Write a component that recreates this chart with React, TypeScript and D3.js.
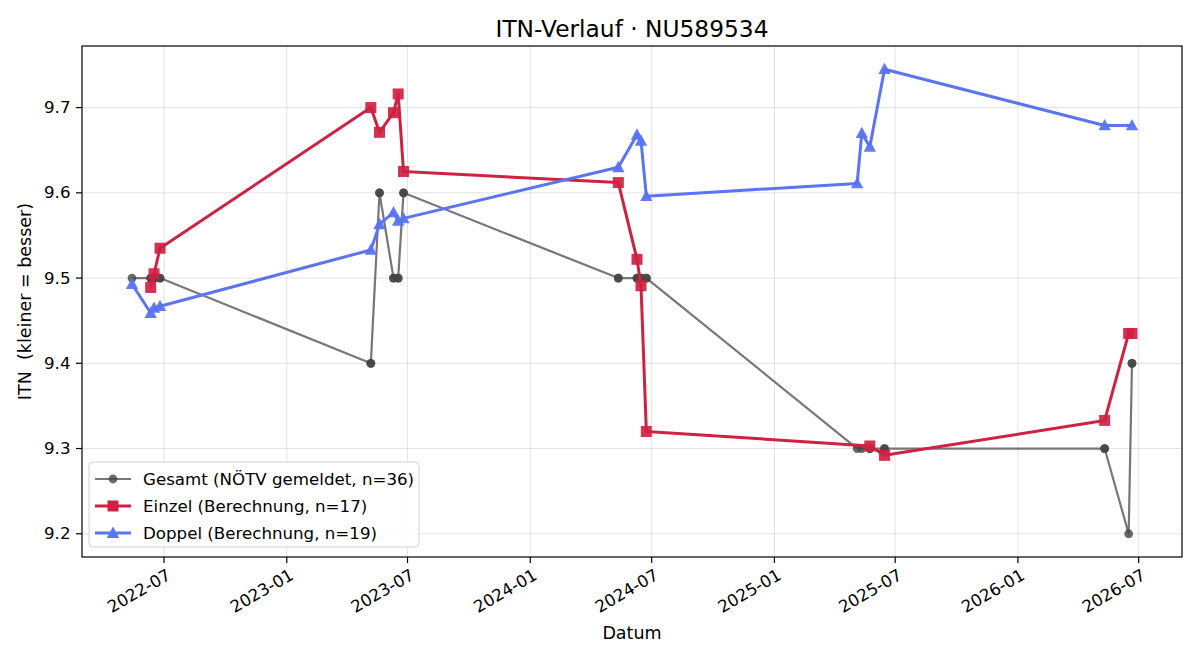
import React from "react";
import * as d3 from "d3";

const gesamtDates = [
  "2022-05-14","2022-06-11","2022-06-11","2022-06-16","2022-06-16","2022-06-25","2022-06-25",
  "2023-05-07","2023-05-07","2023-05-20","2023-05-20","2023-06-10","2023-06-10","2023-06-17","2023-06-17","2023-06-25","2023-06-25",
  "2024-05-12","2024-05-12","2024-06-09","2024-06-09","2024-06-15","2024-06-15","2024-06-23","2024-06-23",
  "2025-05-05","2025-05-12","2025-05-24","2025-05-24","2025-06-15","2025-06-15",
  "2026-05-11","2026-05-11","2026-06-16","2026-06-21","2026-06-21"
];
const gesamtValues = [
  9.5,9.5,9.5,9.5,9.5,9.5,9.5,
  9.4,9.4,9.6,9.6,9.5,9.5,9.5,9.5,9.6,9.6,
  9.5,9.5,9.5,9.5,9.5,9.5,9.5,9.5,
  9.3,9.3,9.3,9.3,9.3,9.3,
  9.3,9.3,9.2,9.4,9.4
];

const einzelDates = [
  "2022-06-11","2022-06-16","2022-06-25",
  "2023-05-07","2023-05-20","2023-06-10","2023-06-17","2023-06-25",
  "2024-05-12","2024-06-09","2024-06-15","2024-06-23",
  "2025-05-24","2025-06-15",
  "2026-05-11","2026-06-16","2026-06-21"
];
const einzelValues = [
  9.489,9.505,9.535,
  9.700,9.671,9.694,9.716,9.625,
  9.612,9.522,9.491,9.320,
  9.303,9.292,
  9.333,9.435,9.435
];

const doppelDates = [
  "2022-05-14","2022-06-11","2022-06-16","2022-06-25",
  "2023-05-07","2023-05-20","2023-06-10","2023-06-17","2023-06-25",
  "2024-05-12","2024-06-09","2024-06-15","2024-06-23",
  "2025-05-05","2025-05-12","2025-05-24","2025-06-15",
  "2026-05-11","2026-06-21"
];
const doppelValues = [
  9.493,9.459,9.465,9.467,
  9.533,9.563,9.577,9.567,9.570,
  9.630,9.668,9.661,9.596,
  9.611,9.670,9.654,9.745,
  9.679,9.679
];

const xTickLabels = ["2022-07","2023-01","2023-07","2024-01","2024-07","2025-01","2025-07","2026-01","2026-07"];
const yTickValues = [9.2, 9.3, 9.4, 9.5, 9.6, 9.7];

const legendLabels = [
  "Gesamt (NÖTV gemeldet, n=36)",
  "Einzel (Berechnung, n=17)",
  "Doppel (Berechnung, n=19)"
];

const parse = d3.utcParse("%Y-%m-%d");
const parseMonth = d3.utcParse("%Y-%m");

type Pt = { d: Date; v: number };
const zip = (ds: string[], vs: number[]): Pt[] => ds.map((s, i) => ({ d: parse(s) as Date, v: vs[i] }));

const gesamt = zip(gesamtDates, gesamtValues);
const einzel = zip(einzelDates, einzelValues);
const doppel = zip(doppelDates, doppelValues);

const W = 1200, H = 660;
const L = 82, R = 1182, T = 46, B = 557;
const FONT = "DejaVu Sans, sans-serif";

const GRAY_LINE = "#777777";
const GRAY_MARK = "#444444";
const RED = "#cf2142";
const BLUE = "#5a74f2";
const TICK_FS = 16.67;

export default function App() {
  const all = [...gesamt, ...einzel, ...doppel];
  const [dMin, dMax] = d3.extent(all, (p) => +p.d) as [number, number];
  const [vMin, vMax] = d3.extent(all, (p) => p.v) as [number, number];
  const dx = (dMax - dMin) * 0.05;
  const dy = (vMax - vMin) * 0.05;
  const x = d3.scaleUtc().domain([new Date(dMin - dx), new Date(dMax + dx)]).range([L, R]);
  const y = d3.scaleLinear().domain([vMin - dy, vMax + dy]).range([B, T]);

  const line = d3.line<Pt>().x((p) => x(p.d)).y((p) => y(p.v));
  const xTicks = xTickLabels.map((s) => ({ s, d: parseMonth(s) as Date }));

  const tri = (cx: number, cy: number, r: number) =>
    `M${cx},${cy - r} L${cx + r * 0.95},${cy + r * 0.75} L${cx - r * 0.95},${cy + r * 0.75} Z`;

  return (
    <svg width={W} height={H} style={{ display: "block", position: "absolute", left: 0, top: 0 }} fontFamily={FONT}>
      <rect x={0} y={0} width={W} height={H} fill="#fff" />
      {/* grid */}
      {xTicks.map((t) => (
        <line key={"gx" + t.s} x1={x(t.d)} x2={x(t.d)} y1={T} y2={B} stroke="#b0b0b0" strokeOpacity={0.35} strokeWidth={1} />
      ))}
      {yTickValues.map((v) => (
        <line key={"gy" + v} x1={L} x2={R} y1={y(v)} y2={y(v)} stroke="#b0b0b0" strokeOpacity={0.35} strokeWidth={1} />
      ))}

      {/* Gesamt */}
      <path d={line(gesamt) || ""} fill="none" stroke={GRAY_LINE} strokeWidth={2.2} strokeLinejoin="round" />
      {gesamt.map((p, i) => (
        <circle key={"g" + i} cx={x(p.d)} cy={y(p.v)} r={4.4} fill={GRAY_MARK} fillOpacity={0.8} />
      ))}

      {/* Einzel */}
      <path d={line(einzel) || ""} fill="none" stroke={RED} strokeWidth={3} strokeLinejoin="round" />
      {einzel.map((p, i) => (
        <rect key={"e" + i} x={x(p.d) - 5.5} y={y(p.v) - 5.5} width={11} height={11} fill={RED} fillOpacity={0.92} />
      ))}

      {/* Doppel */}
      <path d={line(doppel) || ""} fill="none" stroke={BLUE} strokeWidth={3} strokeLinejoin="round" />
      {doppel.map((p, i) => (
        <path key={"d" + i} d={tri(x(p.d), y(p.v), 6.5)} fill={BLUE} fillOpacity={0.95} />
      ))}

      {/* axes frame */}
      <rect x={L} y={T} width={R - L} height={B - T} fill="none" stroke="#000" strokeWidth={1.2} />

      {/* x ticks */}
      {xTicks.map((t) => {
        const px = x(t.d);
        return (
          <g key={"xt" + t.s}>
            <line x1={px} x2={px} y1={B} y2={B + 6} stroke="#000" strokeWidth={1.2} />
            <text
              transform={`translate(${px + 2},${B + 11}) rotate(-30)`}
              textAnchor="end"
              dominantBaseline="hanging"
              fontSize={TICK_FS}
              fill="#000"
            >
              {t.s}
            </text>
          </g>
        );
      })}

      {/* y ticks */}
      {yTickValues.map((v) => (
        <g key={"yt" + v}>
          <line x1={L - 6} x2={L} y1={y(v)} y2={y(v)} stroke="#000" strokeWidth={1.2} />
          <text x={L - 11.5} y={y(v)} textAnchor="end" dominantBaseline="central" fontSize={TICK_FS} fill="#000">
            {v.toFixed(1)}
          </text>
        </g>
      ))}

      {/* labels */}
      <text x={(L + R) / 2} y={28} textAnchor="middle" dominantBaseline="central" fontSize={23.3} fill="#000">
        ITN-Verlauf · NU589534
      </text>
      <text x={(L + R) / 2} y={633} textAnchor="middle" dominantBaseline="central" fontSize={17.5} fill="#000">
        Datum
      </text>
      <text
        transform={`translate(25,${(T + B) / 2}) rotate(-90)`}
        textAnchor="middle"
        dominantBaseline="central"
        fontSize={17.5}
        fill="#000"
        style={{ whiteSpace: "pre" }}
      >
        {"ITN  (kleiner = besser)"}
      </text>

      {/* legend */}
      <g>
        <rect x={89} y={462} width={330} height={85} rx={4} fill="#fff" fillOpacity={0.85} stroke="#d0d0d0" strokeWidth={1} />
        {legendLabels.map((lab, i) => {
          const cy = 479 + i * 27;
          const c = i === 0 ? GRAY_LINE : i === 1 ? RED : BLUE;
          return (
            <g key={"lg" + i}>
              <line x1={95} x2={131} y1={cy} y2={cy} stroke={c} strokeWidth={i === 0 ? 2.2 : 3} />
              {i === 0 && <circle cx={113} cy={cy} r={4.4} fill={GRAY_MARK} fillOpacity={0.8} />}
              {i === 1 && <rect x={107.5} y={cy - 5.5} width={11} height={11} fill={RED} />}
              {i === 2 && <path d={tri(113, cy, 6.5)} fill={BLUE} />}
              <text x={143} y={cy} dominantBaseline="central" fontSize={TICK_FS} fill="#000">
                {lab}
              </text>
            </g>
          );
        })}
      </g>
    </svg>
  );
}
